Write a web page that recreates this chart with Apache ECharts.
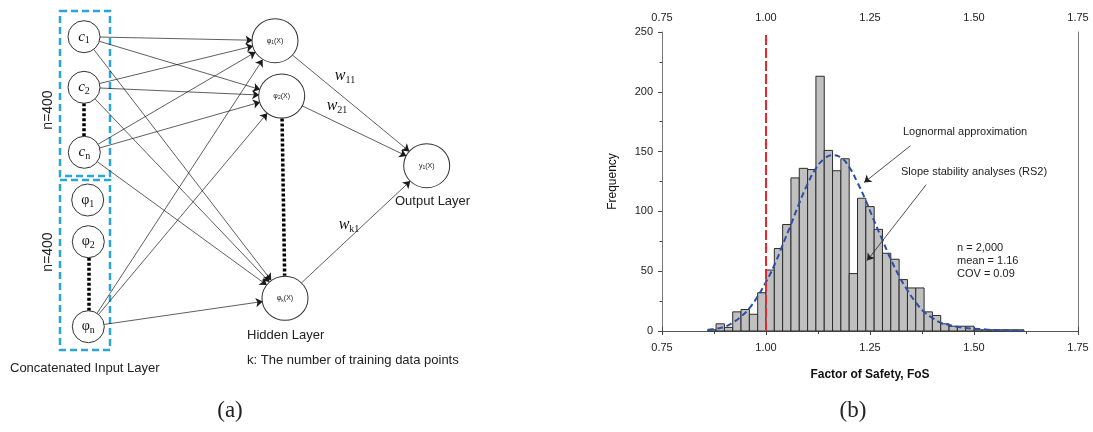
<!DOCTYPE html>
<html>
<head>
<meta charset="utf-8">
<script src="https://cdn.jsdelivr.net/npm/echarts@6/dist/echarts.min.js"></script>
<style>
  html, body { margin: 0; padding: 0; background: #fff; }
  #main { width: 1093px; height: 432px; }
</style>
</head>
<body>
<div id="main"></div>
<script>
// ---- (b) histogram of FoS, bin width 0.02
var binWidth = 0.02;
var binStart = [0.86, 0.88, 0.90, 0.92, 0.94, 0.96, 0.98, 1.00, 1.02, 1.04, 1.06, 1.08, 1.10,
                1.12, 1.14, 1.16, 1.18, 1.20, 1.22, 1.24, 1.26, 1.28, 1.30, 1.32, 1.34, 1.36,
                1.38, 1.40, 1.42, 1.44, 1.46, 1.48, 1.50, 1.52, 1.54, 1.56, 1.58, 1.60];
var binCount = [1, 6, 3, 16, 18, 14, 32, 51, 69, 89, 128, 136, 135,
                213, 151, 134, 144, 48, 111, 104, 85, 65, 60, 43, 36, 36,
                16, 13, 6, 4, 4, 4, 1, 1, 1, 1, 1, 1];

// lognormal approximation
var fitX = [0.86, 0.88, 0.90, 0.92, 0.94, 0.96, 0.98, 1.00, 1.02, 1.04, 1.06, 1.08, 1.10,
            1.12, 1.14, 1.16, 1.18, 1.20, 1.22, 1.24, 1.26, 1.28, 1.30, 1.32, 1.34, 1.36,
            1.38, 1.40, 1.42, 1.44, 1.46, 1.48, 1.50, 1.52, 1.54, 1.56, 1.58, 1.60, 1.62];
var fitY = [1, 2, 3.5, 7, 12, 19, 29, 41, 55, 72, 89, 107, 123,
            136, 144, 147, 145, 137, 124, 109, 92, 76, 60, 46, 34, 24,
            16, 11, 7, 5, 3.5, 2.5, 2, 1.5, 1, 0.7, 0.5, 0.3, 0];

var fosTicks = [0.75, 1.00, 1.25, 1.50, 1.75];
var limitFoS = 1.00;
var stats = ['n = 2,000', 'mean = 1.16', 'COV = 0.09'];

// ---- (a) network diagram
var nodeNames = ['c1', 'c2', 'cn', 'p1', 'p2', 'pn', 'h1', 'h2', 'hk', 'y1'];
var nodeX = [84, 84, 84.3, 87.7, 88.3, 88.3, 275, 281.7, 285, 426.7];
var nodeY = [36.7, 87.3, 152.3, 200, 241.7, 326.7, 40.7, 96, 298.3, 165.7];
var nodeText = ['{i|c}{s|1}', '{i|c}{s|2}', '{i|c}{s|n}',
                '{g|φ}{s|1}', '{g|φ}{s|2}', '{g|φ}{s|n}',
                '{t|φ}{ts|1}{t|(X)}', '{t|φ}{ts|2}{t|(X)}', '{t|φ}{ts|k}{t|(X)}', '{t|y}{ts|1}{t|(X)}'];
var inputNodes = ['c1', 'c2', 'cn', 'pn'];
var hiddenNodes = ['h1', 'h2', 'hk'];
var outputNode = 'y1';
var dottedPairs = [['c2', 'cn'], ['p2', 'pn'], ['h2', 'hk']];
var inputBoxes = [[60, 11, 110, 176], [60, 180, 110, 350]];

var myChart = echarts.init(document.getElementById('main'), null, {renderer: 'canvas'});

var font = 'Liberation Sans, Arial, sans-serif';
var serif = 'Liberation Serif, DejaVu Serif, serif';

var graphNodes = [];
for (var i = 0; i < nodeNames.length; i++) {
    var big = nodeNames[i].charAt(0) == 'h' || nodeNames[i].charAt(0) == 'y';
    graphNodes.push({
        name: nodeNames[i],
        value: [nodeX[i], nodeY[i]],
        symbolSize: big ? [46, 44] : 32,
        label: {formatter: nodeText[i]}
    });
}
var graphLinks = [];
for (var i = 0; i < inputNodes.length; i++) {
    for (var j = 0; j < hiddenNodes.length; j++) {
        graphLinks.push({source: inputNodes[i], target: hiddenNodes[j]});
    }
}
for (var j = 0; j < hiddenNodes.length; j++) {
    graphLinks.push({source: hiddenNodes[j], target: outputNode});
}
for (var i = 0; i < dottedPairs.length; i++) {
    graphLinks.push({
        source: dottedPairs[i][0], target: dottedPairs[i][1],
        symbol: ['rect', 'rect'], symbolSize: 0.01,
        lineStyle: {type: [3, 2], width: 3.5, color: '#000'}
    });
}

var bars = [];
for (var i = 0; i < binStart.length; i++) bars.push([binStart[i], binCount[i]]);
var fit = [];
for (var i = 0; i < fitX.length; i++) fit.push([fitX[i], fitY[i]]);

function renderBox(params, api) {
    var p0 = api.coord([api.value(0), api.value(1)]);
    var p1 = api.coord([api.value(2), api.value(3)]);
    return {
        type: 'rect',
        shape: {x: p0[0], y: p0[1], width: p1[0] - p0[0], height: p1[1] - p0[1]},
        style: {fill: 'none', stroke: '#29a5d8', lineWidth: 2.5, lineDash: [7, 4]}
    };
}
function renderBar(params, api) {
    var p0 = api.coord([api.value(0), api.value(1)]);
    var p1 = api.coord([api.value(0) + binWidth, 0]);
    return {
        type: 'rect',
        shape: {x: p0[0], y: p0[1], width: p1[0] - p0[0], height: p1[1] - p0[1]},
        style: {fill: '#c0c0c0', stroke: '#2b2b2b', lineWidth: 1}
    };
}

function txt(x, y, text, size, extra) {
    var st = {text: text, x: 0, y: 0, fontSize: size, fontFamily: font, fill: '#222',
              textAlign: 'left', textVerticalAlign: 'middle'};
    for (var k in extra) st[k] = extra[k];
    return {type: 'text', x: x, y: y, style: st, z: 100};
}

var subRich = {
    i: {fontFamily: serif, fontStyle: 'italic', fontSize: 15, lineHeight: 18, color: '#111'},
    g: {fontFamily: serif, fontSize: 14, lineHeight: 18, color: '#111'},
    s: {fontFamily: serif, fontSize: 10, lineHeight: 10, verticalAlign: 'bottom', color: '#111'},
    t: {fontFamily: font, fontSize: 7, lineHeight: 9, color: '#222'},
    ts: {fontFamily: font, fontSize: 5, lineHeight: 5, verticalAlign: 'bottom', color: '#222'}
};
var wRich = {
    w: {fontFamily: serif, fontStyle: 'italic', fontSize: 16, lineHeight: 18, fill: '#111'},
    s: {fontFamily: serif, fontSize: 10, lineHeight: 10, verticalAlign: 'bottom', fill: '#111'}
};

var nLabel1 = txt(48, 110, 'n=400', 14, {textAlign: 'center'});
var nLabel2 = txt(48, 252, 'n=400', 14, {textAlign: 'center'});
nLabel1.rotation = Math.PI / 2;
nLabel2.rotation = Math.PI / 2;

var option = {
    backgroundColor: '#fff',
    animation: false,
    textStyle: {fontFamily: font},
    grid: [
        {left: 0, top: 0, width: 520, height: 432, show: false},
        {left: 662, top: 32, width: 416, height: 299, show: false}
    ],
    xAxis: [
        {gridIndex: 0, type: 'value', min: 0, max: 520, show: false},
        {
            gridIndex: 1, type: 'value', min: fosTicks[0], max: fosTicks[fosTicks.length - 1], interval: 0.25,
            position: 'bottom',
            name: 'Factor of Safety, FoS', nameLocation: 'middle', nameGap: 38,
            nameTextStyle: {fontWeight: 'bold', fontSize: 12, color: '#111', fontFamily: font},
            axisLine: {lineStyle: {color: '#555', width: 1}},
            axisTick: {length: 4, lineStyle: {color: '#444'}},
            minorTick: {show: true, splitNumber: 2, length: 2, lineStyle: {color: '#444'}},
            axisLabel: {fontSize: 11, color: '#222', margin: 11, formatter: function (v) { return v.toFixed(2); }},
            splitLine: {show: false}
        },
        {
            gridIndex: 1, type: 'value', min: fosTicks[0], max: fosTicks[fosTicks.length - 1], interval: 0.25,
            position: 'top',
            axisLine: {lineStyle: {color: '#555', width: 1}},
            axisTick: {length: 4, lineStyle: {color: '#444'}},
            minorTick: {show: true, splitNumber: 2, length: -3, lineStyle: {color: '#444'}},
            axisLabel: {fontSize: 11, color: '#222', margin: 9, formatter: function (v) { return v.toFixed(2); }},
            splitLine: {show: false}
        }
    ],
    yAxis: [
        {gridIndex: 0, type: 'value', min: 0, max: 432, inverse: true, show: false},
        {
            gridIndex: 1, type: 'value', min: 0, max: 250, interval: 50,
            name: 'Frequency', nameLocation: 'middle', nameGap: 43, nameRotate: 90,
            nameTextStyle: {fontSize: 12, color: '#111', fontFamily: font},
            axisLine: {show: true, lineStyle: {color: '#777', width: 1}},
            axisTick: {show: true, length: 4, lineStyle: {color: '#444'}},
            minorTick: {show: true, splitNumber: 2, length: 2.5, lineStyle: {color: '#444'}},
            axisLabel: {fontSize: 11, color: '#222', margin: 9},
            splitLine: {show: false}
        },
        {
            gridIndex: 1, type: 'value', min: 0, max: 250, position: 'right',
            axisLine: {show: true, lineStyle: {color: '#777', width: 1}},
            axisTick: {show: false}, axisLabel: {show: false}, splitLine: {show: false}
        }
    ],
    graphic: [
        nLabel1,
        nLabel2,
        txt(10, 368, 'Concatenated Input Layer', 13, {}),
        txt(247, 335, 'Hidden Layer', 13, {}),
        txt(247, 360, 'k: The number of training data points', 13, {}),
        txt(395, 201, 'Output Layer', 13, {}),
        {type: 'text', x: 345, y: 76, z: 100, style: {text: '{w|w}{s|11}', rich: wRich, textAlign: 'center', textVerticalAlign: 'middle'}},
        {type: 'text', x: 337, y: 106, z: 100, style: {text: '{w|w}{s|21}', rich: wRich, textAlign: 'center', textVerticalAlign: 'middle'}},
        {type: 'text', x: 349, y: 225, z: 100, style: {text: '{w|w}{s|k1}', rich: wRich, textAlign: 'center', textVerticalAlign: 'middle'}},
        txt(230, 411, '(a)', 23, {textAlign: 'center', fontFamily: serif}),
        txt(853, 411, '(b)', 23, {textAlign: 'center', fontFamily: serif}),
        txt(903, 132, 'Lognormal approximation', 11, {}),
        txt(901, 172, 'Slope stability analyses (RS2)', 11, {}),
        txt(957, 248, stats[0], 11, {}),
        txt(957, 261, stats[1], 11, {}),
        txt(957, 274, stats[2], 11, {})
    ],
    series: [
        {
            type: 'custom', xAxisIndex: 0, yAxisIndex: 0,
            renderItem: renderBox, data: inputBoxes, encode: {x: [0, 2], y: [1, 3]}, silent: true
        },
        {
            type: 'graph', coordinateSystem: 'cartesian2d', xAxisIndex: 0, yAxisIndex: 0,
            silent: true,
            symbol: 'circle',
            edgeSymbol: ['circle', 'arrow'],
            edgeSymbolSize: [0, 7],
            itemStyle: {color: '#fff', borderColor: '#333', borderWidth: 1},
            lineStyle: {color: '#1a1a1a', width: 0.7, opacity: 1, curveness: 0},
            label: {show: true, position: 'inside', rich: subRich},
            data: graphNodes,
            links: graphLinks
        },
        {
            type: 'custom', xAxisIndex: 1, yAxisIndex: 1,
            renderItem: renderBar, data: bars, encode: {x: 0, y: 1}, silent: true, z: 2
        },
        {
            type: 'line', xAxisIndex: 1, yAxisIndex: 1, data: fit, smooth: true, symbol: 'none',
            lineStyle: {color: '#2c4fa6', width: 2, type: [6, 3.5]}, z: 3,
            markLine: {
                silent: true, symbol: ['none', 'none'], label: {show: false},
                lineStyle: {color: '#e8262c', width: 2, type: [10, 3]},
                data: [{xAxis: limitFoS}]
            }
        },
        {
            type: 'line', xAxisIndex: 1, yAxisIndex: 1, data: [], z: 4,
            markLine: {
                silent: true, symbol: ['none', 'arrow'], symbolSize: 7, label: {show: false},
                lineStyle: {color: '#222', width: 0.8, type: 'solid'},
                data: [
                    [{coord: [1.347, 154.8]}, {coord: [1.236, 124.2]}],
                    [{coord: [1.385, 122.3]}, {coord: [1.243, 58.9]}]
                ]
            }
        }
    ]
};
myChart.setOption(option);
</script>
</body>
</html>
